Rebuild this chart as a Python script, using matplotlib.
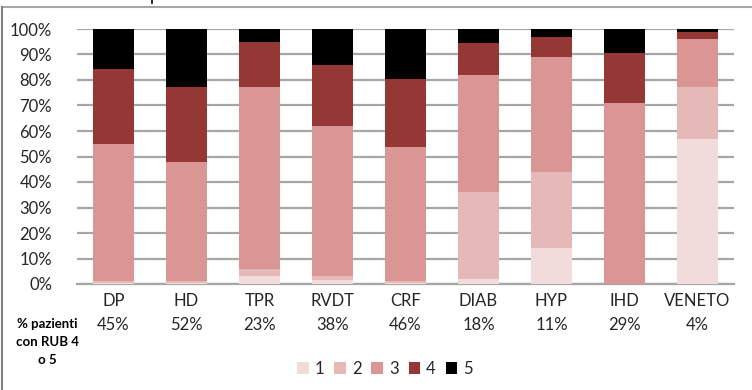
import matplotlib
matplotlib.use("Agg")
import matplotlib.pyplot as plt
import numpy as np
from matplotlib.patches import Patch
from matplotlib.lines import Line2D

categories = ["DP", "HD", "TPR", "RVDT", "CRF", "DIAB", "HYP", "IHD", "VENETO"]
rub_pct = ["45%", "52%", "23%", "38%", "46%", "18%", "11%", "29%", "4%"]
s1 = [0.3, 0.3, 3.2, 1.5, 0.3, 2.1, 14.3, 0.0, 57.0]
s2 = [0.7, 1.0, 2.8, 1.7, 0.7, 33.8, 29.6, 0.0, 20.2]
s3 = [54.0, 46.6, 71.4, 58.7, 52.9, 46.1, 45.0, 70.9, 18.8]
s4 = [29.2, 29.5, 17.4, 23.9, 26.4, 12.5, 8.1, 19.8, 2.9]
s5 = [15.8, 22.6, 5.2, 14.2, 19.7, 5.5, 3.0, 9.3, 1.1]
series_labels = ["1", "2", "3", "4", "5"]
colors = ["#f2dcdb", "#e6b9b8", "#d99694", "#953735", "#000000"]

plt.rcParams['font.family'] = ['Lato', 'DejaVu Sans']

W, H = 752, 390
fig = plt.figure(figsize=(W / 100, H / 100), dpi=100)
ax = fig.add_axes([77 / W, (H - 284) / H, (734 - 77) / W, (284 - 29) / H])

x = np.arange(len(categories))
bottom = np.zeros(len(categories))
for vals, c in zip([s1, s2, s3, s4, s5], colors):
    ax.bar(x, vals, width=0.57, bottom=bottom, color=c, zorder=3, linewidth=0)
    bottom += np.array(vals)

ax.set_xlim(-0.5, len(categories) - 0.5)
ax.set_ylim(0, 100)
ax.set_yticks(np.arange(0, 101, 10))
ax.set_yticklabels([f"{v}%" for v in range(0, 101, 10)], fontsize=12, color="#262626")
ax.yaxis.grid(True, color="#a6a6a6", linewidth=1.6, zorder=0)
ax.tick_params(axis="y", length=0, pad=18)
ax.set_xticks(x)
ax.set_xticklabels([])
ax.tick_params(axis="x", length=0)
for s in ["top", "right", "left"]:
    ax.spines[s].set_visible(False)
ax.spines["bottom"].set_color("#a6a6a6")
ax.spines["bottom"].set_linewidth(1.6)

for i, (c, p) in enumerate(zip(categories, rub_pct)):
    ax.annotate(c, xy=(i, 0), xycoords=("data", "axes fraction"), xytext=(0, -17),
                textcoords="offset pixels", ha="center", va="center", fontsize=12, color="#262626")
    ax.annotate(p, xy=(i, 0), xycoords=("data", "axes fraction"), xytext=(0, -41),
                textcoords="offset pixels", ha="center", va="center", fontsize=12, color="#262626")

fig.text(47 / W, 1 - 342 / H, "% pazienti\ncon RUB 4\no 5", ha="center", va="center",
         fontsize=9.5, fontweight="bold", color="#000000", linespacing=1.65)

handles = [Patch(facecolor=c, edgecolor="none") for c in colors]
leg = fig.legend(handles, series_labels, loc="center", bbox_to_anchor=(385 / W, 1 - 369 / H),
                 ncol=5, frameon=False, fontsize=12, handlelength=0.7, handleheight=0.7,
                 handletextpad=0.35, columnspacing=0.6)
for t in leg.get_texts():
    t.set_color("#262626")

# outer frame lines
fig.add_artist(Line2D([2 / W, 1], [1 - 7 / H, 1 - 7 / H], color="#a6a6a6", linewidth=1.5, transform=fig.transFigure))
fig.add_artist(Line2D([2 / W, 2 / W], [0, 1 - 7 / H], color="#808080", linewidth=1.5, transform=fig.transFigure))
fig.add_artist(Line2D([152 / W, 152 / W], [1 - 3 / H, 1], color="#000000", linewidth=1.2, transform=fig.transFigure))

fig.savefig("out.png", dpi=100)
